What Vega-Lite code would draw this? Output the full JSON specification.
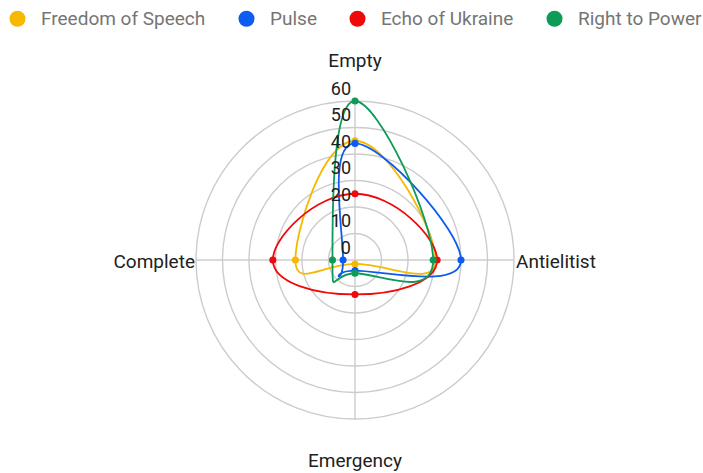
{
  "$schema": "https://vega.github.io/schema/vega-lite/v6.json",
  "width": 703,
  "height": 473,
  "autosize": "none",
  "padding": 0,
  "background": "white",
  "config": {"view": {"stroke": null}, "font": "Roboto"},
  "datasets": {
    "series": [
      {"series": "Freedom of Speech", "axis": "Empty", "value": 45},
      {"series": "Freedom of Speech", "axis": "Antielitist", "value": 30.5},
      {"series": "Freedom of Speech", "axis": "Emergency", "value": 1.5},
      {"series": "Freedom of Speech", "axis": "Complete", "value": 22.5},
      {"series": "Pulse", "axis": "Empty", "value": 44},
      {"series": "Pulse", "axis": "Antielitist", "value": 40},
      {"series": "Pulse", "axis": "Emergency", "value": 4},
      {"series": "Pulse", "axis": "Complete", "value": 4.5},
      {"series": "Echo of Ukraine", "axis": "Empty", "value": 25},
      {"series": "Echo of Ukraine", "axis": "Antielitist", "value": 31},
      {"series": "Echo of Ukraine", "axis": "Emergency", "value": 13},
      {"series": "Echo of Ukraine", "axis": "Complete", "value": 31},
      {"series": "Right to Power", "axis": "Empty", "value": 60},
      {"series": "Right to Power", "axis": "Antielitist", "value": 29.5},
      {"series": "Right to Power", "axis": "Emergency", "value": 5},
      {"series": "Right to Power", "axis": "Complete", "value": 8.5}
    ],
    "rings": [{"r": 10}, {"r": 20}, {"r": 30}, {"r": 40}, {"r": 50}, {"r": 60}],
    "ticks": [{"v": 0}, {"v": 10}, {"v": 20}, {"v": 30}, {"v": 40}, {"v": 50}, {"v": 60}],
    "axes": [{"axis": "Empty"}, {"axis": "Antielitist"}, {"axis": "Emergency"}, {"axis": "Complete"}]
  },
  "layer": [
    {
      "data": {"name": "rings"},
      "transform": [{"calculate": "0", "as": "c"}],
      "mark": {"type": "point", "shape": "circle", "filled": false, "stroke": "#cccccc", "strokeWidth": 1.4, "opacity": 1},
      "encoding": {
        "x": {"field": "c", "type": "quantitative", "scale": {"domain": [-133.96, 131.32], "nice": false, "zero": false}, "axis": null},
        "y": {"field": "c", "type": "quantitative", "scale": {"domain": [-80.38, 98.11], "nice": false, "zero": false}, "axis": null},
        "size": {"field": "r", "type": "quantitative", "scale": {"type": "pow", "exponent": 2, "domain": [0, 60], "range": [0, 101124]}, "legend": null}
      }
    },
    {
      "data": {"name": "axes"},
      "transform": [
        {"calculate": "indexof(['Empty','Antielitist','Emergency','Complete'], datum.axis)", "as": "idx"},
        {"calculate": "0", "as": "c"},
        {"calculate": "60*sin(datum.idx*PI/2)", "as": "ex"},
        {"calculate": "60*cos(datum.idx*PI/2)", "as": "ey"}
      ],
      "mark": {"type": "rule", "stroke": "#cccccc", "strokeWidth": 1.4},
      "encoding": {
        "x": {"field": "c", "type": "quantitative"},
        "y": {"field": "c", "type": "quantitative"},
        "x2": {"field": "ex"},
        "y2": {"field": "ey"}
      }
    },
    {
      "data": {"name": "series"},
      "transform": [
        {"calculate": "indexof(['Empty','Antielitist','Emergency','Complete'], datum.axis)", "as": "idx"},
        {"calculate": "datum.value*sin(datum.idx*PI/2)", "as": "px"},
        {"calculate": "datum.value*cos(datum.idx*PI/2)", "as": "py"}
      ],
      "mark": {"type": "line", "interpolate": "cardinal-closed", "tension": -0.4, "strokeWidth": 1.8},
      "encoding": {
        "x": {"field": "px", "type": "quantitative"},
        "y": {"field": "py", "type": "quantitative"},
        "order": {"field": "idx", "type": "quantitative"},
        "color": {"field": "series", "type": "nominal", "sort": null,
          "scale": {"domain": ["Freedom of Speech", "Pulse", "Echo of Ukraine", "Right to Power"], "range": ["#F6B900", "#0D5CF2", "#EE0A0A", "#0E9A57"]}}
      }
    },
    {
      "data": {"name": "series"},
      "transform": [
        {"calculate": "indexof(['Empty','Antielitist','Emergency','Complete'], datum.axis)", "as": "idx"},
        {"calculate": "datum.value*sin(datum.idx*PI/2)", "as": "px"},
        {"calculate": "datum.value*cos(datum.idx*PI/2)", "as": "py"}
      ],
      "mark": {"type": "point", "shape": "circle", "filled": true, "size": 50, "opacity": 1},
      "encoding": {
        "x": {"field": "px", "type": "quantitative"},
        "y": {"field": "py", "type": "quantitative"},
        "color": {"field": "series", "type": "nominal", "sort": null,
          "scale": {"domain": ["Freedom of Speech", "Pulse", "Echo of Ukraine", "Right to Power"], "range": ["#F6B900", "#0D5CF2", "#EE0A0A", "#0E9A57"]},
          "legend": {"title": null, "orient": "none", "legendX": 8, "legendY": 9, "direction": "horizontal",
            "symbolType": "circle", "symbolSize": 256, "symbolStrokeWidth": 0, "symbolOpacity": 1,
            "labelFont": "Roboto", "labelFontSize": 19, "labelColor": "#757575", "labelOffset": 14, "labelLimit": 400, "columnPadding": 31}}
      }
    },
    {
      "data": {"name": "ticks"},
      "transform": [{"calculate": "0", "as": "c"}],
      "mark": {"type": "text", "align": "right", "baseline": "middle", "dx": -4, "dy": -11, "fontSize": 18, "color": "#212121"},
      "encoding": {
        "x": {"field": "c", "type": "quantitative"},
        "y": {"field": "v", "type": "quantitative"},
        "text": {"field": "v", "type": "quantitative"}
      }
    },
    {
      "data": {"name": "axes"},
      "transform": [
        {"filter": "datum.axis == 'Empty' || datum.axis == 'Emergency'"},
        {"calculate": "0", "as": "lx"},
        {"calculate": "datum.axis == 'Empty' ? 75 : -76", "as": "ly"}
      ],
      "mark": {"type": "text", "align": "center", "baseline": "middle", "fontSize": 19, "color": "#212121"},
      "encoding": {
        "x": {"field": "lx", "type": "quantitative"},
        "y": {"field": "ly", "type": "quantitative"},
        "text": {"field": "axis", "type": "nominal"}
      }
    },
    {
      "data": {"name": "axes"},
      "transform": [
        {"filter": "datum.axis == 'Antielitist'"},
        {"calculate": "60", "as": "lx"},
        {"calculate": "0", "as": "ly"}
      ],
      "mark": {"type": "text", "align": "left", "baseline": "middle", "dx": 2, "dy": 2, "fontSize": 19, "color": "#212121"},
      "encoding": {
        "x": {"field": "lx", "type": "quantitative"},
        "y": {"field": "ly", "type": "quantitative"},
        "text": {"field": "axis", "type": "nominal"}
      }
    },
    {
      "data": {"name": "axes"},
      "transform": [
        {"filter": "datum.axis == 'Complete'"},
        {"calculate": "-60", "as": "lx"},
        {"calculate": "0", "as": "ly"}
      ],
      "mark": {"type": "text", "align": "right", "baseline": "middle", "dx": -1, "dy": 2, "fontSize": 19, "color": "#212121"},
      "encoding": {
        "x": {"field": "lx", "type": "quantitative"},
        "y": {"field": "ly", "type": "quantitative"},
        "text": {"field": "axis", "type": "nominal"}
      }
    }
  ]
}
